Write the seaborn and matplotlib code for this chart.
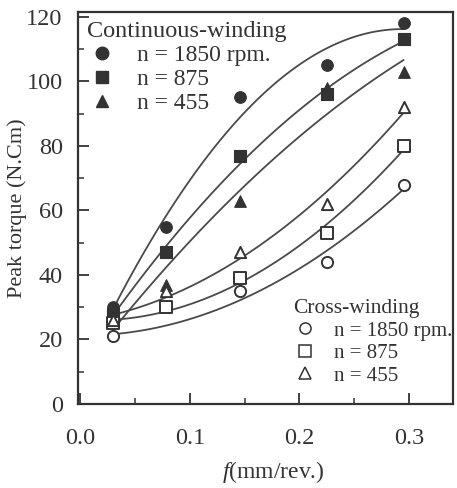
import numpy as np
import pandas as pd
import seaborn as sns
import matplotlib.pyplot as plt
from matplotlib.lines import Line2D
from matplotlib.ticker import MultipleLocator

sns.set_theme(style="ticks")
plt.rcParams['font.family'] = ['Liberation Serif', 'DejaVu Serif']
plt.rcParams['mathtext.fontset'] = 'custom'
plt.rcParams['mathtext.it'] = 'Liberation Serif:italic'
plt.rcParams['mathtext.rm'] = 'Liberation Serif'

# Feed rate (mm/rev.)
feed = [0.030, 0.078, 0.146, 0.225, 0.295]

# Peak torque (N.Cm), continuous winding
cont_1850 = [30, 55, 95, 105, 118]
cont_875 = [28, 47, 77, 96, 113]
cont_455 = [27, 37, 63, 98, 103]

# Peak torque (N.Cm), cross winding
cross_1850 = [21, np.nan, 35, 44, 68]
cross_875 = [25, 30, 39, 53, 80]
cross_455 = [26, 35, 47, 62, 92]

speed_labels = ["n = 1850 rpm.", "n = 875", "n = 455"]
markers = ["o", "s", "^"]

ink = "#333333"
line_c = "#4a4a4a"

fig = plt.figure(figsize=(4.57, 4.88), dpi=100)
ax = fig.add_axes([78 / 457, 84 / 488, 375 / 457, 392 / 488])

groups = [
    ([cont_1850, cont_875, cont_455], True),
    ([cross_1850, cross_875, cross_455], False),
]

for series, filled in groups:
    for vals, mk in zip(series, markers):
        # second-order trend line through each speed series
        sns.regplot(x=np.array(feed), y=np.array(vals, dtype=float), order=2,
                    ci=None, scatter=False, truncate=True,
                    line_kws=dict(color=line_c, lw=1.3), ax=ax)
        if filled:
            sns.scatterplot(x=feed, y=vals, marker=mk, s=70, color=ink,
                            edgecolor=ink, linewidth=0.8, ax=ax, zorder=3)
        else:
            sns.scatterplot(x=feed, y=vals, marker=mk, s=65, color="white",
                            edgecolor=ink, linewidth=1.4, ax=ax, zorder=3)

ax.set_xlim(-0.002, 0.34)
ax.set_ylim(0, 121.5)
ax.set_xticks([0.0, 0.1, 0.2, 0.3])
ax.set_xticklabels(["0.0", "0.1", "0.2", "0.3"])
ax.xaxis.set_minor_locator(MultipleLocator(0.05))
ax.set_yticks(range(0, 121, 20))
ax.yaxis.set_minor_locator(MultipleLocator(10))

ax.tick_params(which="major", direction="in", length=8, width=1.3,
               color=ink, labelsize=17.5, labelcolor=ink)
ax.tick_params(which="minor", direction="in", length=4, width=1.1, color=ink)
ax.tick_params(axis="y", which="major", pad=11)
ax.tick_params(axis="x", which="major", pad=17)

for sp in ax.spines.values():
    sp.set_visible(True)
    sp.set_linewidth(1.6)
    sp.set_color(ink)

ax.set_ylabel("Peak torque (N.Cm)", fontsize=16, color=ink)
ax.yaxis.set_label_coords(-0.135, 0.5)
ax.set_xlabel("$f$(mm/rev.)", fontsize=17, color=ink)
ax.xaxis.set_label_coords(0.52, -0.14)

def handles(filled, size):
    hs = []
    for mk in markers:
        if filled:
            hs.append(Line2D([], [], ls="none", marker=mk, markersize=size,
                             markerfacecolor=ink, markeredgecolor=ink))
        else:
            hs.append(Line2D([], [], ls="none", marker=mk, markersize=size,
                             markerfacecolor="white", markeredgecolor=ink,
                             markeredgewidth=1.1))
    return hs

leg1 = ax.legend(handles(True, 9), speed_labels, title="Continuous-winding",
                 loc="upper left", bbox_to_anchor=(0.0, 1.0), frameon=False,
                 fontsize=17, title_fontsize=17.5, alignment="left",
                 labelspacing=0.1, handlelength=1.2, handletextpad=0.9,
                 borderpad=0.25, borderaxespad=0.15)
for t in leg1.get_texts():
    t.set_color(ink)
leg1.get_title().set_color(ink)
ax.add_artist(leg1)

leg2 = ax.legend(handles(False, 8), speed_labels, title="Cross-winding",
                 loc="lower left", bbox_to_anchor=(0.545, 0.02), frameon=False,
                 fontsize=15, title_fontsize=15.5, alignment="left",
                 labelspacing=0.14, handlelength=1.2, handletextpad=0.8,
                 borderpad=0.3, borderaxespad=0.2)
for t in leg2.get_texts():
    t.set_color(ink)
leg2.get_title().set_color(ink)

fig.savefig("out.png", dpi=100)
